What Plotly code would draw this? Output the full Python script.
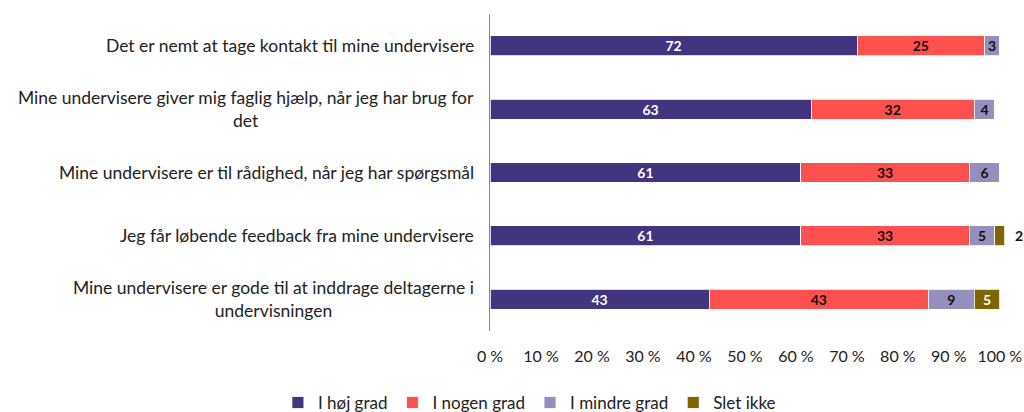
import plotly.graph_objects as go

categories = [
    "Det er nemt at tage kontakt til mine undervisere",
    "Mine undervisere giver mig faglig hjælp, når jeg har brug for<br>det",
    "Mine undervisere er til rådighed, når jeg har spørgsmål",
    "Jeg får løbende feedback fra mine undervisere",
    "Mine undervisere er gode til at inddrage deltagerne i<br>undervisningen",
]
series_names = ["I høj grad", "I nogen grad", "I mindre grad", "Slet ikke"]
hoej = [72, 63, 61, 61, 43]
nogen = [25, 32, 33, 33, 43]
mindre = [3, 4, 6, 5, 9]
slet = [0, 0, 0, 2, 5]
tick_vals = [0, 10, 20, 30, 40, 50, 60, 70, 80, 90, 100]
tick_text = [f"{v} %" for v in tick_vals]

colors = ["#42347F", "#FF5050", "#958FBD", "#7F6500"]
text_colors = ["white", "#111111", "#111111", "white"]
FONT = "Lato"
SMALL = 3  # segments narrower than this get their label outside

series = [hoej, nogen, mindre, slet]
fig = go.Figure()
for name, vals, col, tcol in zip(series_names, series, colors, text_colors):
    texts = [str(v) if v >= SMALL else "" for v in vals]
    fig.add_trace(go.Bar(
        name=name,
        y=categories,
        x=vals,
        orientation="h",
        marker=dict(color=col, line=dict(color="rgba(255,255,255,0.8)", width=1)),
        text=texts,
        textposition="inside",
        textangle=0,
        insidetextanchor="middle",
        constraintext="none",
        textfont=dict(family=FONT, size=14, color=tcol, weight="bold"),
        cliponaxis=False,
        hoverinfo="skip",
    ))

# labels of tiny last segments, placed just right of the stack
for i, cat in enumerate(categories):
    v = slet[i]
    if 0 < v < SMALL:
        total = hoej[i] + nogen[i] + mindre[i] + slet[i]
        fig.add_annotation(
            x=total, xref="x", y=cat, yref="y", text=str(v), showarrow=False,
            xanchor="left", yanchor="middle", xshift=8,
            font=dict(family=FONT, size=14, color="#111111", weight="bold"),
        )

for cat in categories:
    fig.add_annotation(
        x=0, xref="paper", y=cat, yref="y",
        text=cat, showarrow=False,
        xanchor="right", yanchor="middle", align="center",
        xshift=-14,
        font=dict(family=FONT, size=17.5, color="#222222"),
    )

fig.update_layout(
    barmode="stack",
    bargap=0.685,
    width=1024, height=412,
    margin=dict(l=490, r=14, t=14, b=81, autoexpand=False),
    plot_bgcolor="white",
    paper_bgcolor="white",
    font=dict(family=FONT, size=16, color="#222222"),
    legend=dict(
        orientation="h", x=0.517, xanchor="center", xref="container",
        y=-0.227, yanchor="middle", yref="paper",
        font=dict(family=FONT, size=17, color="#222222"),
        itemwidth=30, traceorder="normal",
    ),
    showlegend=True,
)
fig.update_xaxes(
    range=[0, 102], tickvals=tick_vals, ticktext=tick_text,
    showgrid=False, zeroline=False, showline=False, ticks="",
    automargin=False, ticklabelstandoff=14,
    tickfont=dict(family=FONT, size=16, color="#222222"),
)
fig.update_yaxes(
    autorange="reversed", showticklabels=False, showgrid=False,
    automargin=False,
    showline=True, linecolor="#888888", linewidth=1, ticks="",
)

fig.write_html(
    "out.html",
    config={"displayModeBar": False},
    post_script="document.body.style.margin='0';document.body.style.overflow='hidden';",
)
